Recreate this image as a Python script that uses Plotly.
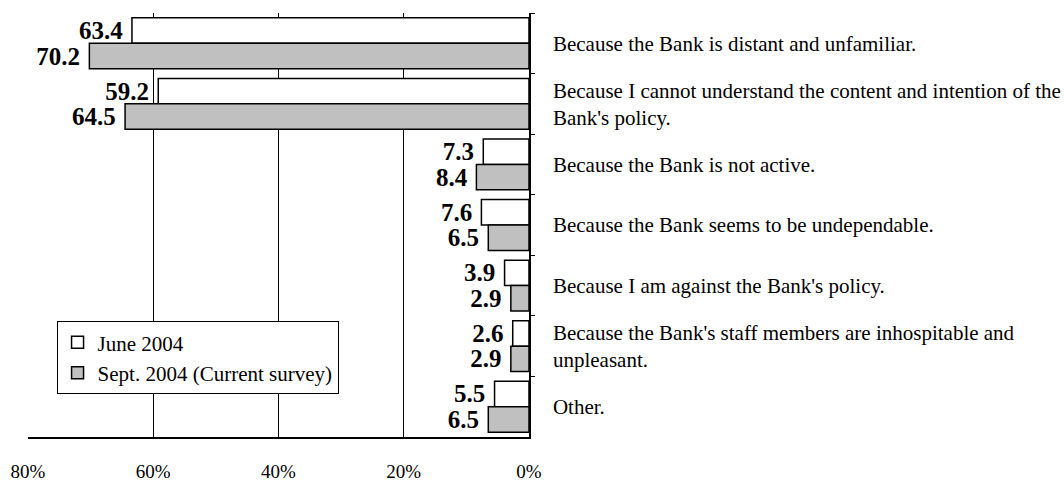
import plotly.graph_objects as go

categories = [
    "Because the Bank is distant and unfamiliar.",
    "Because I cannot understand the content and intention of the<br>Bank's policy.",
    "Because the Bank is not active.",
    "Because the Bank seems to be undependable.",
    "Because I am against the Bank's policy.",
    "Because the Bank's staff members are inhospitable and<br>unpleasant.",
    "Other.",
]
june_2004 = [63.4, 59.2, 7.3, 7.6, 3.9, 2.6, 5.5]
sept_2004 = [70.2, 64.5, 8.4, 6.5, 2.9, 2.9, 6.5]
series_names = ["June 2004", "Sept. 2004 (Current survey)"]
x_ticks = [80, 60, 40, 20, 0]

FONT = "Liberation Serif, Times New Roman, serif"

fig = go.Figure()
for name, vals, color in [
    (series_names[0], june_2004, "#FFFFFF"),
    (series_names[1], sept_2004, "#C0C0C0"),
]:
    fig.add_trace(go.Bar(
        name=name,
        y=categories,
        x=vals,
        orientation="h",
        marker=dict(color=color, line=dict(color="black", width=1.5)),
        text=[f"{v:.1f}\u00a0" for v in vals],
        textposition="outside",
        constraintext="none",
        cliponaxis=False,
        textfont=dict(family=FONT, size=25, color="black", weight="bold"),
        hoverinfo="skip",
    ))

fig.update_layout(
    width=1064,
    height=480,
    margin=dict(l=28, r=535, t=13, b=43, autoexpand=False),
    paper_bgcolor="white",
    plot_bgcolor="white",
    barmode="group",
    bargap=0.16,
    bargroupgap=0,
    font=dict(family=FONT, size=21, color="black"),
    showlegend=True,
    legend=dict(
        x=0.057, y=0.187, xanchor="left", yanchor="middle",
        bgcolor="white", bordercolor="black", borderwidth=1,
        font=dict(family=FONT, size=21, color="black"),
        traceorder="normal",
        tracegroupgap=0,
        itemwidth=30,
    ),
    xaxis=dict(
        range=[80, 0],
        tickvals=x_ticks,
        ticktext=[f"{t}%" for t in x_ticks],
        showgrid=True,
        gridcolor="black",
        gridwidth=1,
        zeroline=False,
        showline=True,
        linecolor="black",
        linewidth=1.5,
        ticks="",
        ticklabelstandoff=16,
        tickfont=dict(family=FONT, size=19, color="black"),
        automargin=False,
        fixedrange=True,
    ),
    yaxis=dict(
        side="right",
        autorange="reversed",
        showgrid=False,
        zeroline=False,
        showline=True,
        linecolor="black",
        linewidth=1.5,
        ticks="outside",
        ticklen=4,
        tickcolor="black",
        tickson="boundaries",
        ticklabelstandoff=18,
        tickfont=dict(family=FONT, size=21, color="black"),
        automargin=False,
        fixedrange=True,
    ),
)

fig.write_html(
    "out.html",
    config={"displayModeBar": False},
    post_script="document.body.style.margin='0px';document.body.style.overflow='hidden';",
)
